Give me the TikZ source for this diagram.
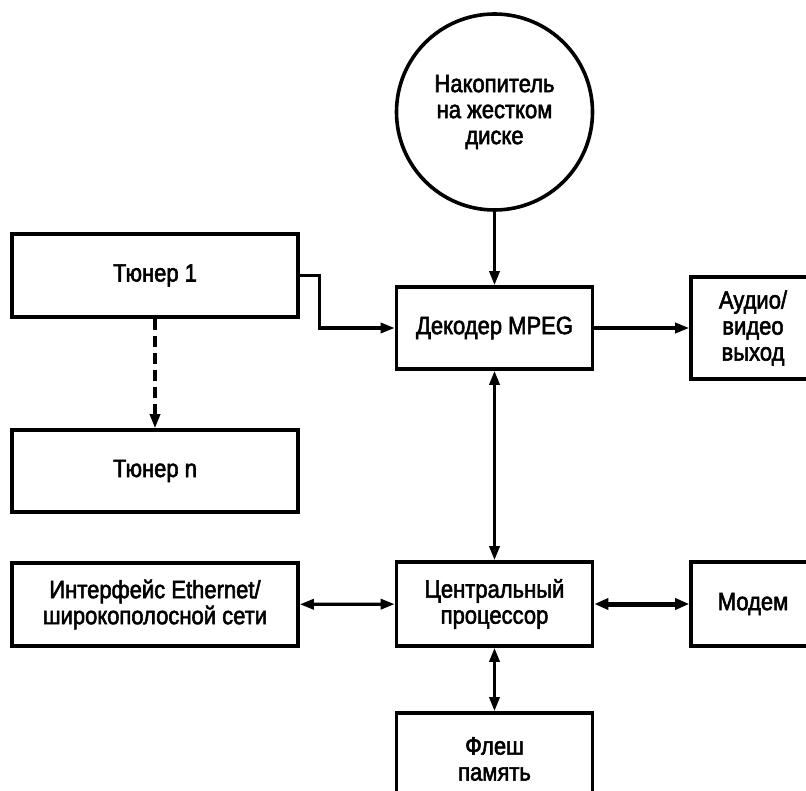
\documentclass[tikz,border=0pt]{standalone}
\usepackage{fontspec}
\setmainfont[FakeStretch=0.88,FakeBold=2.2]{Liberation Sans}
\usetikzlibrary{arrows.meta}
\begin{document}
\begin{tikzpicture}[x=1pt,y=1pt,
  blk/.style={draw, line width=3.6pt, inner sep=0pt, align=center,
    font=\fontsize{25}{26}\selectfont},
  arr/.style={line width=3.2pt, -{Triangle[length=14pt,width=10pt]}},
  darr/.style={line width=3.2pt, {Triangle[length=14pt,width=10pt]}-{Triangle[length=14pt,width=10pt]}},
  thick arr/.style={line width=5pt, {Triangle[length=14pt,width=11pt]}-{Triangle[length=14pt,width=11pt]}},
  dasharr/.style={line width=3.2pt, dash pattern=on 11pt off 6pt, -{Triangle[length=14pt,width=10pt]}}]
\useasboundingbox (0,0) rectangle (806,-791);
\clip (0,0) rectangle (806,-791);
\node[blk, circle, minimum size=196pt] (hdd) at (494.5,-112) {Накопитель\\на жестком\\диске};
\node[blk, minimum width=196pt, minimum height=82pt] (dec) at (494.5,-328) {Декодер MPEG};
\node[blk, minimum width=124pt, minimum height=102pt] (av) at (753,-328) {Аудио/\\видео\\выход};
\node[blk, minimum width=286pt, minimum height=83pt] (t1) at (155,-275.5) {Тюнер 1};
\node[blk, minimum width=286pt, minimum height=82pt] (tn) at (155,-471) {Тюнер n};
\node[blk, minimum width=286pt, minimum height=83pt] (eth) at (155,-604.5) {Интерфейс Ethernet/\\широкополосной сети};
\node[blk, minimum width=196pt, minimum height=84pt] (cpu) at (494.5,-604) {Центральный\\процессор};
\node[blk, minimum width=124pt, minimum height=84pt] (modem) at (753,-604) {Модем};
\node[blk, minimum width=196pt, minimum height=92pt] (flash) at (494.5,-759) {Флеш\\память};
\draw[arr] (hdd) -- (dec);
\draw[arr] (t1.east) -- ++(20,0) |- (dec.west);
\draw[dasharr] (t1) -- (tn);
\draw[arr] (dec) -- (av);
\draw[darr] (dec) -- (cpu);
\draw[darr] (eth) -- (cpu);
\draw[thick arr] (cpu) -- (modem);
\draw[darr] (cpu) -- (flash);
\end{tikzpicture}
\end{document}
